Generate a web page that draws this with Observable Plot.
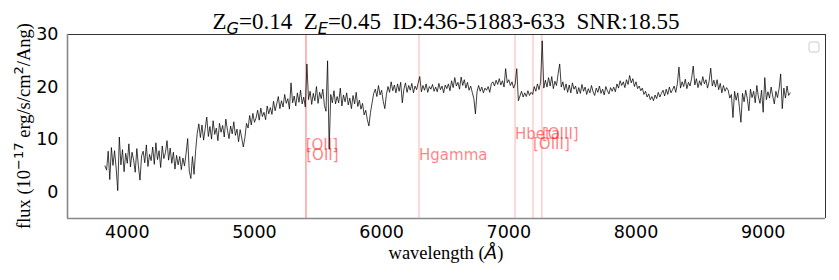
<!DOCTYPE html>
<html><head><meta charset="utf-8">
<script src="https://cdn.jsdelivr.net/npm/d3@7"></script>
<script src="https://cdn.jsdelivr.net/npm/@observablehq/plot@0.6"></script>
<style>body{margin:0;background:#fff} #chart{position:relative;width:839px;height:280px}</style>
</head><body><div id="chart"></div>
<script>
// wavelength grid (Angstrom) of the spectrum samples
const waveStart = 3825, waveStep = 12.5;
// flux (1e-17 erg/s/cm^2/Ang), 8 samples per 100 Å
const flux = [
 5.0, 4.2, 7.8, 2.4, 8.5, 5.1, 7.9, 4.6,
 0.3,10.5, 5.2, 8.1, 3.9, 7.4, 5.5, 9.2,
 4.8, 7.6, 6.1, 3.8, 8.3, 5.0, 2.3, 6.9,
 7.8, 5.6, 9.0, 4.9, 7.2, 6.0, 8.6, 5.3,
 9.4, 6.2, 7.9, 4.7, 8.8, 6.4, 7.5, 9.8,
 6.1, 8.4, 5.5, 7.6, 4.4, 7.0, 5.2, 6.8,
 4.3, 6.5, 5.0, 7.4,10.2, 4.0, 2.6, 6.8,
 3.4, 7.9,11.2,13.0,10.4,12.8, 9.9,12.1,
14.3,10.6,12.5,10.1,13.6,11.0,12.2, 9.8,
13.1,11.4,12.7,10.5,13.9,11.8,10.2,12.6,
11.1,13.4,10.8,12.0, 9.6,11.9,10.3, 8.6,
10.4,13.1,12.2,14.6,12.8,15.0,13.3,14.1,
15.6,13.7,16.0,14.4,15.2,13.8,16.4,14.9,
16.1,14.8,17.3,15.5,16.8,18.2,15.9,17.4,
16.2,18.6,16.9,17.8,15.8,20.8,17.0,18.3,
16.4,18.9,17.1,19.4,16.8,18.1,16.2,24.4,
17.6,19.2,16.7,18.8,17.4,20.1,16.9,19.0,
17.8,19.6,16.5,15.4,25.0, 8.2,18.6,17.0,
19.3,16.8,18.2,17.0,19.8,16.4,18.5,17.2,
18.9,16.6,17.9,15.9,18.4,16.8,19.0,16.3,
17.5,15.8,16.9,14.7,15.6,13.8,12.6,15.2,
17.0,18.8,19.6,18.2,20.3,18.5,19.4,17.3,
15.9,18.6,20.1,19.0,21.0,19.3,20.4,18.9,
20.6,19.2,20.9,17.0,19.6,20.8,19.0,20.3,
19.4,20.7,18.9,20.2,19.5,20.8,22.0,19.1,
20.3,19.4,20.6,19.0,20.1,19.6,20.5,19.2,
20.0,19.1,20.7,19.5,20.2,18.9,20.4,19.7,
20.6,19.3,21.2,19.9,21.8,20.2,20.9,19.6,
21.9,20.3,21.4,19.8,20.9,19.4,20.2,19.0,
17.8,14.9,19.1,20.3,19.2,20.0,18.9,19.8,
19.4,20.1,19.0,20.6,21.0,20.2,21.3,20.5,
21.6,20.4,21.2,20.0,23.5,20.8,21.4,20.3,
21.0,19.8,20.6,23.5,17.4,18.3,19.2,18.1,
18.9,18.2,19.3,18.4,19.0,18.6,20.1,19.2,
20.6,19.5,21.0,28.8,19.8,21.3,20.0,21.8,
20.2,22.0,19.7,21.1,20.3,22.5,24.4,20.0,
21.0,19.4,20.6,19.0,20.4,18.9,20.8,19.6,
20.2,18.7,19.9,18.8,20.5,19.2,20.0,18.6,
19.7,18.9,20.3,19.1,18.4,19.8,19.0,20.2,
18.8,19.6,18.5,20.1,19.3,18.7,19.9,19.2,
20.0,19.1,20.6,19.8,21.2,20.3,21.0,19.9,
21.4,20.5,22.2,20.8,21.6,20.1,21.0,19.7,
20.2,19.3,19.8,18.6,19.2,18.1,18.7,17.6,
18.2,17.4,18.5,17.8,19.0,18.1,18.8,19.4,
18.3,19.6,18.6,20.0,18.9,19.5,20.2,19.0,
20.6,23.8,19.8,21.0,20.1,21.5,19.7,20.9,
20.2,21.7,24.0,20.4,21.6,19.9,21.2,20.3,
22.0,20.6,21.4,19.8,21.1,23.6,20.2,21.3,
20.0,21.4,19.5,20.7,18.9,20.3,19.2,19.9,
19.4,17.9,18.6,14.2,19.2,17.5,18.9,16.3,
13.3,18.8,17.2,19.4,17.8,15.5,19.6,18.0,
19.2,17.0,20.3,18.1,16.9,19.4,15.2,21.8,
17.6,19.1,17.9,20.0,18.3,16.8,19.2,18.0,
19.7,22.5,15.9,19.8,17.9,20.2,18.4,18.9
];
// emission lines (observed wavelength) and label heights
const lineNames = ["[OII]", "[OII]", "Hgamma", "Hbeta", "[OIII]", "[OIII]"];
const lineWaves = [5403, 5407, 6294, 7049, 7190, 7260];
const labelFlux = [8.0, 6.1, 6.1, 10.2, 8.3, 10.2];
const xTicks = [4000, 5000, 6000, 7000, 8000, 9000];
const yTicks = [0, 10, 20, 30];
const xDomain = [3530, 9490];
const yDomain = [-5, 30];

const spectrum = flux.map((f, i) => ({w: waveStart + waveStep * i, f}));
const lines = lineNames.map((n, i) => ({name: n, w: lineWaves[i], y: labelFlux[i]}));

const plot = Plot.plot({
  width: 839, height: 280,
  marginLeft: 67, marginRight: 14, marginTop: 34, marginBottom: 62,
  style: {fontFamily: "DejaVu Sans", fontSize: "17.5px", color: "#000", background: "#fff", overflow: "visible"},
  x: {domain: xDomain, label: null},
  y: {domain: yDomain, label: null},
  marks: [
    Plot.ruleX(lines, {x: "w", stroke: "red", strokeOpacity: 0.3, strokeWidth: 1}),
    Plot.line(spectrum, {x: "w", y: "f", stroke: "#000", strokeWidth: 0.75}),
    Plot.text(lines, {x: "w", y: "y", text: "name", textAnchor: "start", lineAnchor: "bottom",
      fill: "red", fillOpacity: 0.5, fontSize: 15, fontFamily: "DejaVu Sans"}),
    Plot.axisX({ticks: xTicks, tickSize: 0, tickPadding: 7, tickFormat: d => String(d), fontSize: 17.5, label: null}),
    Plot.axisY({ticks: yTicks, tickSize: 0, tickPadding: 9, tickFormat: d => String(d), fontSize: 17.5, label: null}),
    Plot.ruleY([yDomain[1]], {stroke: "#333", strokeWidth: 1}),
    Plot.ruleX([xDomain[1]], {stroke: "#333", strokeWidth: 1}),
    Plot.ruleY([yDomain[0]], {stroke: "#888", strokeWidth: 1.6}),
    Plot.ruleX([xDomain[0]], {stroke: "#888", strokeWidth: 1.6})
  ]
});
document.getElementById("chart").appendChild(plot);

const svg = d3.select(plot);
const cx = (67 + 825) / 2;
// title
const t = svg.append("text").attr("x", cx).attr("y", 29).attr("text-anchor", "middle")
  .style("font-family", "'Liberation Serif', serif").style("font-size", "23px").style("white-space", "pre").attr("fill", "#000");
const sub = (s) => t.append("tspan").attr("dy", 5).style("font-family", "DejaVu Sans").style("font-style", "italic").style("font-size", "16px").text(s);
t.append("tspan").text("Z");
sub("G");
t.append("tspan").attr("dy", -5).text("=0.14  Z");
sub("E");
t.append("tspan").attr("dy", -5).text("=0.45  ID:436-51883-633  SNR:18.55");

// y label
const yl = svg.append("text").attr("transform", `translate(30,126) rotate(-90)`).attr("text-anchor", "middle")
  .style("font-family", "'Liberation Serif', serif").style("font-size", "18.5px").style("white-space", "pre").attr("fill", "#000");
yl.append("tspan").text("flux (10");
yl.append("tspan").attr("dy", -7).style("font-family", "DejaVu Sans").style("font-size", "13px").text("\u221217");
yl.append("tspan").attr("dy", 7).text(" erg/s/cm");
yl.append("tspan").attr("dy", -7).style("font-family", "DejaVu Sans").style("font-size", "13px").text("2");
yl.append("tspan").attr("dy", 7).text("/Ang)");

// x label
const xl = svg.append("text").attr("x", cx).attr("y", 259).attr("text-anchor", "middle")
  .style("font-family", "'Liberation Serif', serif").style("font-size", "18.5px").attr("fill", "#000");
xl.append("tspan").text("wavelength (");
xl.append("tspan").style("font-family", "DejaVu Sans").style("font-style", "italic").text("\u00C5");
xl.append("tspan").text(")");

// empty legend box
svg.append("rect").attr("x", 809).attr("y", 42).attr("width", 10).attr("height", 10).attr("rx", 2)
  .attr("fill", "#fff").attr("stroke", "#ccc").attr("stroke-width", 1);
</script>
</body></html>
